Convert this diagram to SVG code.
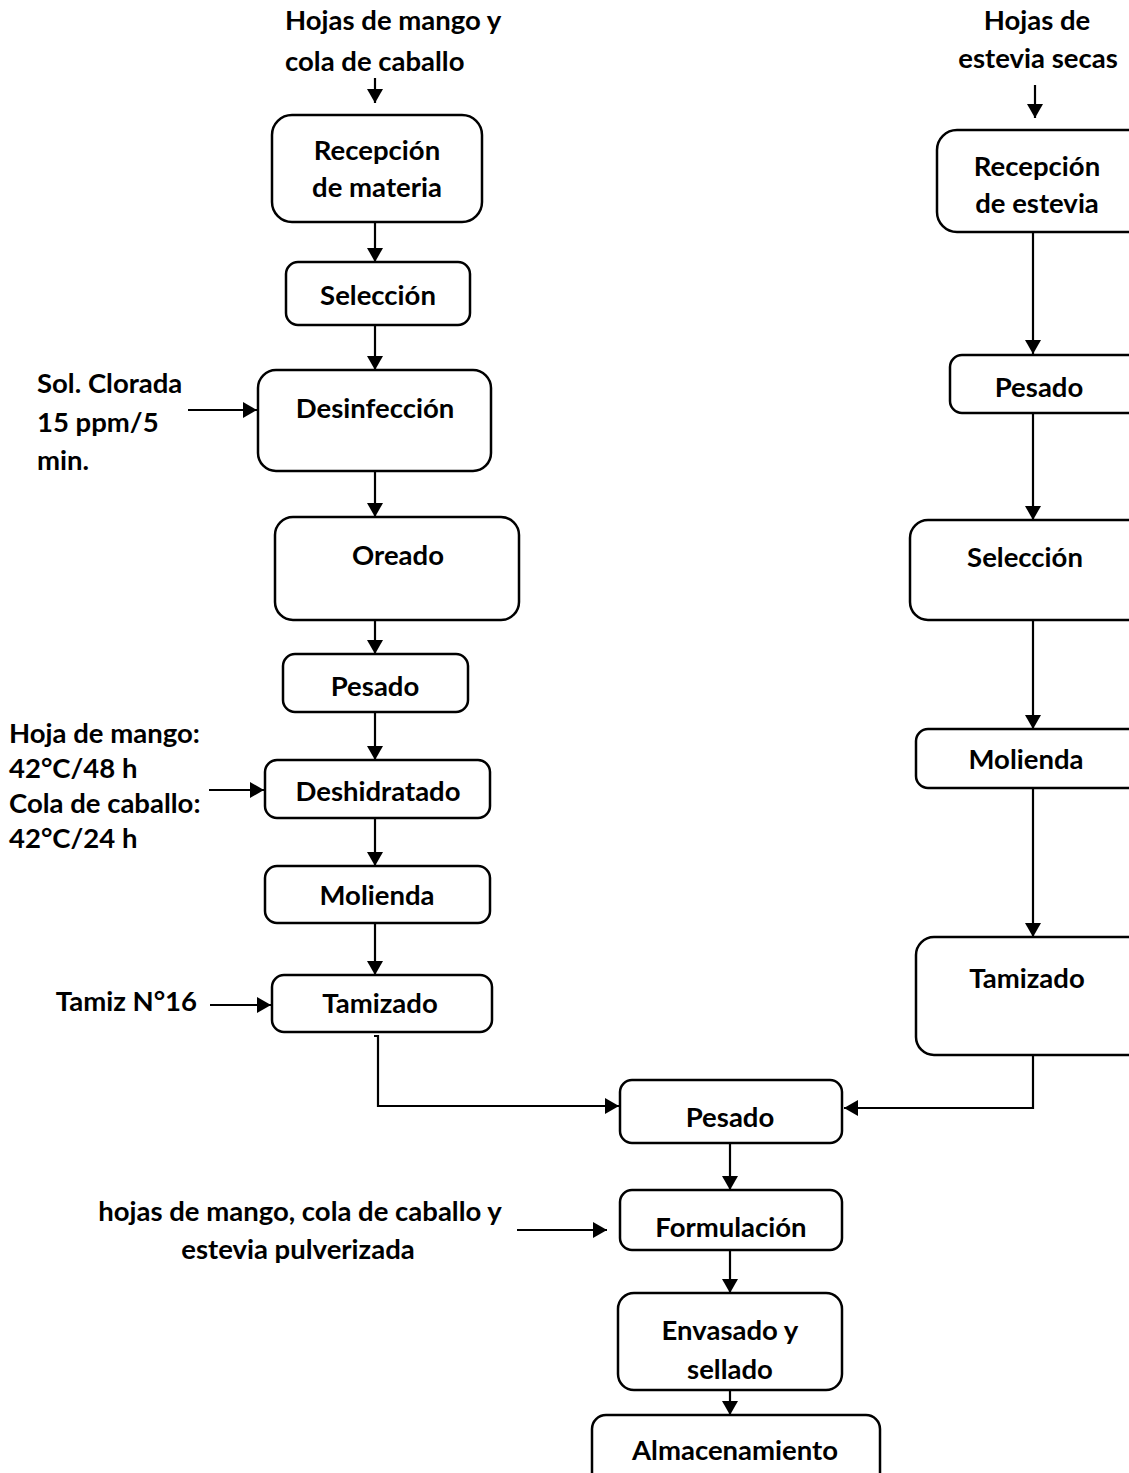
<svg xmlns="http://www.w3.org/2000/svg" width="1129" height="1473" viewBox="0 0 1129 1473">
<style>
.box{fill:#fff;stroke:#000;stroke-width:2.5}
.t{font-family:Lato,"Liberation Sans",sans-serif;font-weight:700;font-size:27.5px;fill:#000}
.c{text-anchor:middle}
.e{text-anchor:end}
.ln{fill:none;stroke:#000;stroke-width:2.2}
</style>
<defs>
<marker id="ah" markerUnits="userSpaceOnUse" markerWidth="14" markerHeight="16" refX="14" refY="8" orient="auto">
<path d="M0,0 L14,8 L0,16 z" fill="#000"/>
</marker>
</defs>
<rect width="1129" height="1473" fill="#fff"/>
<g id="connectors" class="ln" marker-end="url(#ah)">
<line x1="375" y1="78" x2="375" y2="103"/>
<line x1="375" y1="222" x2="375" y2="262"/>
<line x1="375" y1="325" x2="375" y2="370"/>
<line x1="375" y1="472" x2="375" y2="517"/>
<line x1="375" y1="620" x2="375" y2="654"/>
<line x1="375" y1="712" x2="375" y2="760"/>
<line x1="375" y1="818" x2="375" y2="866"/>
<line x1="375" y1="923" x2="375" y2="975"/>
<line x1="188" y1="410" x2="257" y2="410"/>
<line x1="209" y1="790" x2="264" y2="790"/>
<line x1="210" y1="1005" x2="271" y2="1005"/>
<polyline points="374,1036 378,1036 378,1106 619,1106"/>
<line x1="1035" y1="85" x2="1035" y2="118"/>
<line x1="1033" y1="232" x2="1033" y2="354"/>
<line x1="1033" y1="413" x2="1033" y2="520"/>
<line x1="1033" y1="620" x2="1033" y2="729"/>
<line x1="1033" y1="788" x2="1033" y2="937"/>
<polyline points="1033,1055 1033,1108 844,1108"/>
<line x1="730" y1="1143" x2="730" y2="1190"/>
<line x1="517" y1="1230" x2="607" y2="1230"/>
<line x1="730" y1="1250" x2="730" y2="1293"/>
<line x1="730" y1="1390" x2="730" y2="1415"/>
</g>
<g id="lbl-mango-top"><text class="t" x="285" y="30">Hojas de mango y</text><text class="t" x="285" y="71">cola de caballo</text></g>
<g id="lbl-estevia-top"><text class="t c" x="1037" y="30">Hojas de</text><text class="t c" x="1038" y="68">estevia secas</text></g>
<g id="lbl-clorada"><text class="t" x="37" y="393">Sol. Clorada</text><text class="t" x="37" y="432">15 ppm/5</text><text class="t" x="37" y="470">min.</text></g>
<g id="lbl-deshid"><text class="t" x="9" y="743">Hoja de mango:</text><text class="t" x="9" y="778">42°C/48 h</text><text class="t" x="9" y="813">Cola de caballo:</text><text class="t" x="9" y="848">42°C/24 h</text></g>
<g id="lbl-tamiz"><text class="t e" x="197" y="1011">Tamiz N°16</text></g>
<g id="lbl-formul"><text class="t c" x="300" y="1221">hojas de mango, cola de caballo y</text><text class="t c" x="298" y="1259">estevia pulverizada</text></g>
<g id="n-recepcion"><rect class="box" x="272" y="115" width="210" height="107" rx="20"/><text class="t c" x="377" y="160">Recepción</text><text class="t c" x="377" y="197">de materia</text></g>
<g id="n-seleccion"><rect class="box" x="286" y="262" width="184" height="63" rx="12"/><text class="t c" x="378" y="305">Selección</text></g>
<g id="n-desinfeccion"><rect class="box" x="258" y="370" width="233" height="101" rx="18"/><text class="t c" x="375" y="418">Desinfección</text></g>
<g id="n-oreado"><rect class="box" x="275" y="517" width="244" height="103" rx="18"/><text class="t c" x="398" y="565">Oreado</text></g>
<g id="n-pesado1"><rect class="box" x="283" y="654" width="185" height="58" rx="12"/><text class="t c" x="375" y="696">Pesado</text></g>
<g id="n-deshidratado"><rect class="box" x="265" y="760" width="225" height="58" rx="12"/><text class="t c" x="378" y="801">Deshidratado</text></g>
<g id="n-molienda1"><rect class="box" x="265" y="866" width="225" height="57" rx="12"/><text class="t c" x="377" y="905">Molienda</text></g>
<g id="n-tamizado1"><rect class="box" x="272" y="975" width="220" height="57" rx="12"/><text class="t c" x="380" y="1013">Tamizado</text></g>
<g id="n-recepcion-estevia"><rect class="box" x="937" y="130" width="220" height="102" rx="20"/><text class="t c" x="1037" y="176">Recepción</text><text class="t c" x="1037" y="213">de estevia</text></g>
<g id="n-pesado2"><rect class="box" x="950" y="355" width="200" height="58" rx="12"/><text class="t c" x="1039" y="397">Pesado</text></g>
<g id="n-seleccion2"><rect class="box" x="910" y="520" width="240" height="100" rx="18"/><text class="t c" x="1025" y="567">Selección</text></g>
<g id="n-molienda2"><rect class="box" x="916" y="729" width="234" height="59" rx="12"/><text class="t c" x="1026" y="769">Molienda</text></g>
<g id="n-tamizado2"><rect class="box" x="916" y="937" width="234" height="118" rx="18"/><text class="t c" x="1027" y="988">Tamizado</text></g>
<g id="n-pesado3"><rect class="box" x="620" y="1080" width="222" height="63" rx="12"/><text class="t c" x="730" y="1127">Pesado</text></g>
<g id="n-formulacion"><rect class="box" x="620" y="1190" width="222" height="60" rx="12"/><text class="t c" x="731" y="1237">Formulación</text></g>
<g id="n-envasado"><rect class="box" x="618" y="1293" width="224" height="97" rx="16"/><text class="t c" x="730" y="1340">Envasado y</text><text class="t c" x="730" y="1379">sellado</text></g>
<g id="n-almacenamiento"><rect class="box" x="592" y="1415" width="288" height="80" rx="14"/><text class="t c" x="735" y="1460">Almacenamiento</text></g>
</svg>
